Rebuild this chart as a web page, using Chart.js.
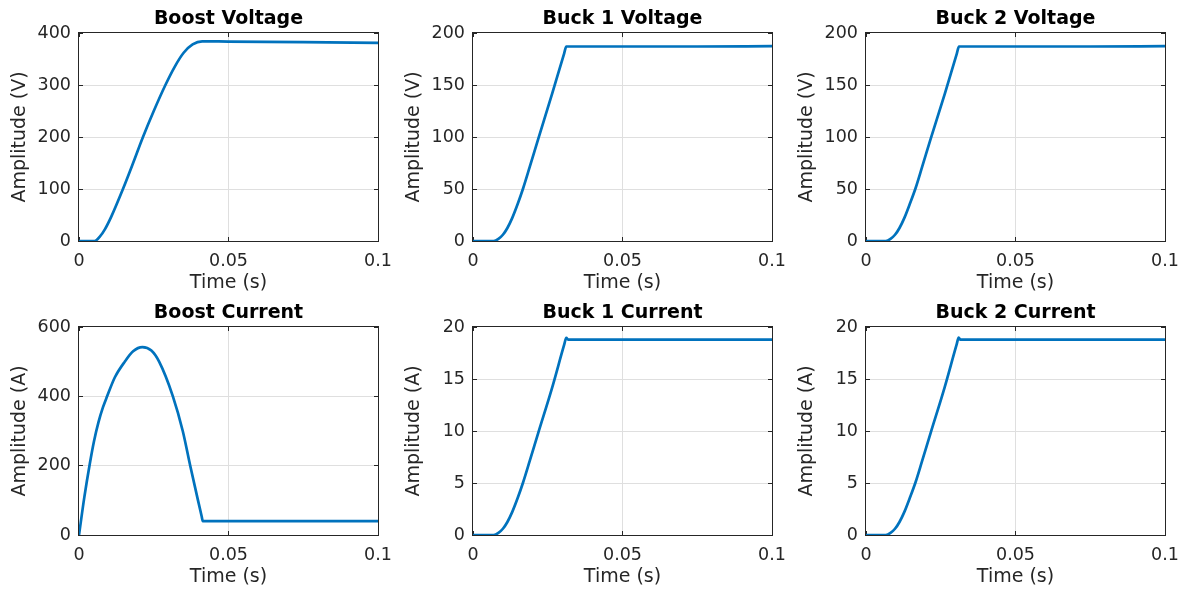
<!DOCTYPE html>
<html>
<head>
<meta charset="utf-8">
<title>Converter start-up waveforms</title>
<script src="https://cdn.jsdelivr.net/npm/chart.js@4.4.1/dist/chart.umd.min.js"></script>
<style>
  html, body { margin: 0; padding: 0; background: #fff; }
  #figure { position: relative; width: 1203px; height: 594px; overflow: hidden; background: #fff; }
  #figure canvas { position: absolute; }
</style>
</head>
<body>
<div id="figure"></div>
<script>
const timeTicks = [0, 0.05, 0.1];

// boost stage output voltage
const boostVoltageTime = [0, 0.0052, 0.0069, 0.0086, 0.0108, 0.0147, 0.0181, 0.0214, 0.0250, 0.0289, 0.0320, 0.0350, 0.0380, 0.0412, 0.0500, 0.0750, 0.1000];
const boostVoltage     = [0, 0, 8, 22, 47, 100, 150, 200, 250, 300, 335, 362, 378, 384, 383.5, 382.5, 381];

// boost stage inductor current
const boostCurrentTime = [0, 0.0018, 0.0036, 0.0050, 0.0065, 0.0080, 0.0094, 0.0120, 0.0153, 0.0181, 0.0212, 0.0242, 0.0268, 0.0314, 0.0347, 0.0372, 0.0398, 0.0410, 0.0414, 0.0500, 0.0750, 0.1000];
const boostCurrent     = [0, 110, 205, 270, 325, 368, 400, 455, 500, 530, 542, 532, 500, 400, 300, 200, 100, 55, 40, 40, 40, 40];

// buck outputs
const buck1VoltageTime = [0, 0.0069, 0.0085, 0.0100, 0.0115, 0.0131, 0.0150, 0.0168, 0.0190, 0.0218, 0.0265, 0.0305, 0.0312, 0.0500, 0.0750, 0.1000];
const buck1Voltage     = [0, 0, 2, 6, 12.5, 22, 36, 51, 71.5, 98, 142, 180.5, 187, 187, 187, 187.3];
const buck2VoltageTime = [0, 0.0066, 0.0082, 0.0097, 0.0112, 0.0128, 0.0147, 0.0166, 0.0188, 0.0216, 0.0264, 0.0304, 0.0311, 0.0500, 0.0750, 0.1000];
const buck2Voltage     = [0, 0, 2, 6, 12.5, 22, 36, 51, 71.5, 98, 142, 180.5, 187, 187, 187, 187.3];

const buck1CurrentTime = [0, 0.0069, 0.0085, 0.0100, 0.0115, 0.0131, 0.0150, 0.0168, 0.0190, 0.0218, 0.0265, 0.0305, 0.0312, 0.0318, 0.0500, 0.0750, 0.1000];
const buck1Current     = [0, 0, 0.2, 0.6, 1.25, 2.2, 3.6, 5.1, 7.15, 9.8, 14.2, 18.3, 18.95, 18.78, 18.78, 18.78, 18.78];
const buck2CurrentTime = [0, 0.0066, 0.0082, 0.0097, 0.0112, 0.0128, 0.0147, 0.0166, 0.0188, 0.0216, 0.0263, 0.0303, 0.0310, 0.0316, 0.0500, 0.0750, 0.1000];
const buck2Current     = [0, 0, 0.2, 0.6, 1.25, 2.2, 3.6, 5.1, 7.15, 9.8, 14.2, 18.3, 18.97, 18.78, 18.78, 18.78, 18.78];

const boostVoltageTicks = [0, 100, 200, 300, 400];
const buckVoltageTicks  = [0, 50, 100, 150, 200];
const boostCurrentTicks = [0, 200, 400, 600];
const buckCurrentTicks  = [0, 5, 10, 15, 20];

const panels = [
  { title: "Boost Voltage", yLabel: "Amplitude (V)", yTicks: boostVoltageTicks, t: boostVoltageTime, v: boostVoltage },
  { title: "Buck 1 Voltage", yLabel: "Amplitude (V)", yTicks: buckVoltageTicks, t: buck1VoltageTime, v: buck1Voltage },
  { title: "Buck 2 Voltage", yLabel: "Amplitude (V)", yTicks: buckVoltageTicks, t: buck2VoltageTime, v: buck2Voltage },
  { title: "Boost Current", yLabel: "Amplitude (A)", yTicks: boostCurrentTicks, t: boostCurrentTime, v: boostCurrent },
  { title: "Buck 1 Current", yLabel: "Amplitude (A)", yTicks: buckCurrentTicks, t: buck1CurrentTime, v: buck1Current },
  { title: "Buck 2 Current", yLabel: "Amplitude (A)", yTicks: buckCurrentTicks, t: buck2CurrentTime, v: buck2Current },
];

// subplot grid
const plotLefts = [79, 473, 866];
const plotTops = [33, 327];
const plotWidth = 299;
const plotHeight = 208;
const yAxisWidth = 80;
const xAxisHeight = 53;
const titleHeight = 34;
const rightPad = 20;

const ink = "#262626";
const family = "'DejaVu Sans', sans-serif";

// hide grid lines that sit on the box edges
function gridColor(ctx) {
  const n = ctx.scale.ticks.length;
  return ctx.index === 0 || ctx.index === n - 1 ? "rgba(0,0,0,0)" : "#dfdfdf";
}

function align(px) {
  return Math.round(px - 0.5) + 0.5;
}

// axes box with inward ticks on all four sides
const boxTicks = {
  id: "boxTicks",
  beforeDatasetsDraw(chart) {
    const { ctx, chartArea: a, scales } = chart;
    const len = 4;
    ctx.save();
    ctx.strokeStyle = ink;
    ctx.lineWidth = 1;
    ctx.beginPath();
    scales.x.ticks.forEach((t) => {
      const px = align(scales.x.getPixelForValue(t.value));
      ctx.moveTo(px, a.bottom);
      ctx.lineTo(px, a.bottom - len);
      ctx.moveTo(px, a.top);
      ctx.lineTo(px, a.top + len);
    });
    scales.y.ticks.forEach((t) => {
      const py = align(scales.y.getPixelForValue(t.value));
      ctx.moveTo(a.left, py);
      ctx.lineTo(a.left + len, py);
      ctx.moveTo(a.right, py);
      ctx.lineTo(a.right - len, py);
    });
    ctx.stroke();
    ctx.strokeRect(a.left - 0.5, a.top - 0.5, a.right - a.left + 1, a.bottom - a.top + 1);
    ctx.restore();
  },
};

const figure = document.getElementById("figure");

panels.forEach((p, i) => {
  const col = i % 3;
  const row = Math.floor(i / 3);
  const w = yAxisWidth + plotWidth + rightPad;
  const h = titleHeight + plotHeight + xAxisHeight;

  const canvas = document.createElement("canvas");
  canvas.width = w;
  canvas.height = h;
  canvas.style.width = w + "px";
  canvas.style.height = h + "px";
  canvas.style.left = plotLefts[col] - yAxisWidth + "px";
  canvas.style.top = plotTops[row] - titleHeight + "px";
  figure.appendChild(canvas);

  new Chart(canvas, {
    type: "line",
    data: {
      datasets: [
        {
          data: p.t.map((t, k) => ({ x: t, y: p.v[k] })),
          borderColor: "#0072BD",
          borderWidth: 2.7,
          pointRadius: 0,
          cubicInterpolationMode: "monotone",
          fill: false,
        },
      ],
    },
    options: {
      responsive: false,
      animation: false,
      devicePixelRatio: 1,
      layout: { padding: { left: 0, right: rightPad, top: 0, bottom: 0 } },
      plugins: {
        legend: { display: false },
        tooltip: { enabled: false },
        title: {
          display: true,
          text: p.title,
          fullSize: false,
          color: "#000",
          font: { family, size: 19, weight: "bold", lineHeight: 1.2 },
          padding: { top: 9, bottom: 2.2 },
        },
      },
      scales: {
        x: {
          type: "linear",
          min: 0,
          max: 0.1,
          afterBuildTicks: (s) => {
            s.ticks = timeTicks.map((v) => ({ value: v }));
          },
          afterFit: (s) => {
            s.height = xAxisHeight;
            // tick labels may overhang the plot box; the right pad covers them
            s.paddingLeft = 0;
            s.paddingRight = 0;
          },
          ticks: {
            padding: 10,
            color: ink,
            maxRotation: 0,
            autoSkip: false,
            font: { family, size: 17.5 },
            callback: (v) => String(v),
          },
          grid: { color: gridColor, lineWidth: 1, drawTicks: false },
          border: { display: false },
          title: {
            display: true,
            text: "Time (s)",
            color: ink,
            font: { family, size: 19, lineHeight: 1.2 },
            padding: { top: 0, bottom: 0 },
          },
        },
        y: {
          type: "linear",
          min: p.yTicks[0],
          max: p.yTicks[p.yTicks.length - 1],
          afterBuildTicks: (s) => {
            s.ticks = p.yTicks.map((v) => ({ value: v }));
          },
          afterFit: (s) => {
            s.width = yAxisWidth;
          },
          ticks: {
            padding: 8,
            color: ink,
            autoSkip: false,
            font: { family, size: 17.5 },
            callback: (v) => String(v),
          },
          grid: { color: gridColor, lineWidth: 1, drawTicks: false },
          border: { display: false },
          title: {
            display: true,
            text: p.yLabel,
            color: ink,
            font: { family, size: 19, lineHeight: 1.2 },
            padding: { top: 10, bottom: 0 },
          },
        },
      },
    },
    plugins: [boxTicks],
  });
});
</script>
</body>
</html>
